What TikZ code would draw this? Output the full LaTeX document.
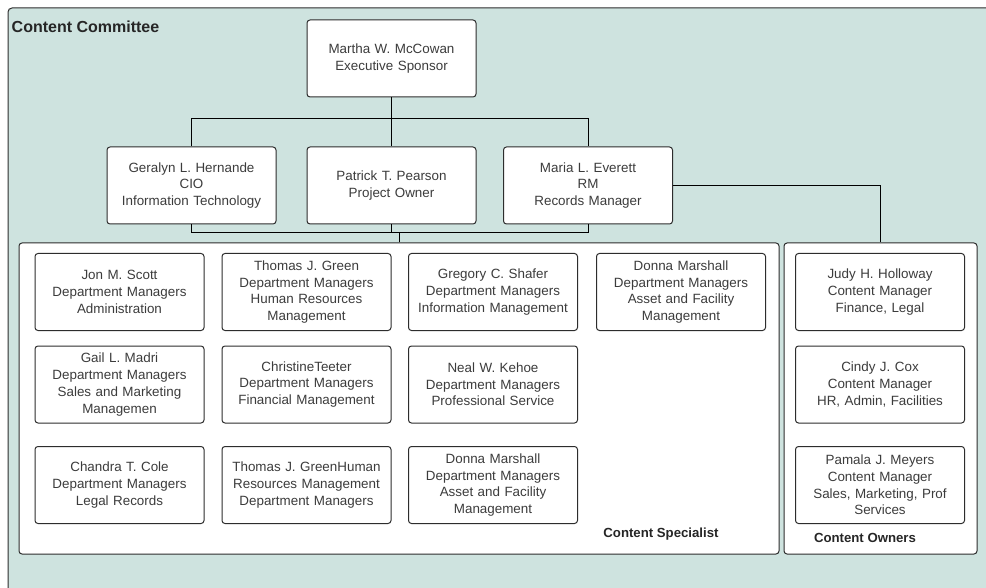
\documentclass[tikz,border=0pt]{standalone}
\usepackage{fontspec}
\setmainfont{Liberation Sans}
\usetikzlibrary{positioning}
\definecolor{committee}{RGB}{206,227,223}
\definecolor{boxline}{RGB}{45,45,45}
\definecolor{boxtext}{RGB}{60,60,60}

\begin{document}
\begin{tikzpicture}
		[x=1pt, y=-1pt,
		person/.style ={rectangle, draw=boxline, line width=1pt, fill=white, rounded corners=3pt, inner sep=0pt,
			minimum width=169pt, minimum height=77pt, text width=165pt, align=center,
			text=boxtext, font=\fontsize{13.4}{16.7}\selectfont},
		group/.style ={rectangle, draw=boxline, line width=1pt, fill=white, rounded corners=3pt, inner sep=0pt,
			minimum height=311pt},
		title/.style ={font=\bfseries\fontsize{13.2}{16}\selectfont, text=black!85, inner sep=0pt},
		link/.style ={draw=black, line width=1pt},
		]
		\useasboundingbox (0,0) rectangle (986,588);
		\clip (0,0) rectangle (986,588);

		% committee frame
		\draw[draw=boxline, fill=committee, line width=1pt, rounded corners=4pt] (8,8) rectangle (1000,600);
		\draw (11.5,27) node[title, anchor=west, font=\bfseries\fontsize{16}{18}\selectfont] (CC) {Content Committee};

		% sponsor and owners
		\draw (391.5,58.5) node[person] (MM) {Martha W. McCowan\\Executive Sponsor};
		\draw (191.5,185.5) node[person] (GH) {Geralyn L. Hernande\\CIO\\Information Technology};
		\draw (391.5,185.5) node[person] (PP) {Patrick T. Pearson\\Project Owner};
		\draw (588,185.5) node[person] (ME) {Maria L. Everett\\RM\\Records Manager};

		% groups
		\draw (399,398.5) node[group, minimum width=760pt] (CS) {};
		\draw (880.5,398.5) node[group, minimum width=193pt] (CO) {};
		\draw (661,534) node[title] (CSL) {Content Specialist};
		\draw (865,538) node[title] (COL) {Content Owners};

		% content specialists
		\draw (119.5,292) node[person] (JS) {Jon M. Scott\\Department Managers\\Administration};
		\draw (306.5,292) node[person] (TG1) {Thomas J. Green\\Department Managers\\Human Resources\\Management};
		\draw (493,292) node[person] (GS) {Gregory C. Shafer\\Department Managers\\Information Management};
		\draw (681,292) node[person] (DM1) {Donna Marshall\\Department Managers\\Asset and Facility\\Management};
		\draw (119.5,384.5) node[person] (GM) {Gail L. Madri\\Department Managers\\Sales and Marketing\\Managemen};
		\draw (306.5,384.5) node[person] (CT) {ChristineTeeter\\Department Managers\\Financial Management};
		\draw (493,384.5) node[person] (NK) {Neal W. Kehoe\\Department Managers\\Professional Service};
		\draw (119.5,485) node[person] (CC3) {Chandra T. Cole\\Department Managers\\Legal Records};
		\draw (306.5,485) node[person] (TG2) {Thomas J. GreenHuman\\Resources Management\\Department Managers};
		\draw (493,485) node[person] (DM2) {Donna Marshall\\Department Managers\\Asset and Facility\\Management};

		% content owners
		\draw (880,292) node[person] (JH) {Judy H. Holloway\\Content Manager\\Finance, Legal};
		\draw (880,384.5) node[person] (CX) {Cindy J. Cox\\Content Manager\\HR, Admin, Facilities};
		\draw (880,485) node[person] (PM) {Pamala J. Meyers\\Content Manager\\Sales, Marketing, Prof\\Services};

		\coordinate (topbar) at (0,119);
		\coordinate (lowbar) at (0,233);
		\path[link]
		(MM.south) -- (PP.north)
		(GH.north) -- (GH.north |- topbar) -- (ME.north |- topbar) -- (ME.north)
		(GH.south) -- (GH.south |- lowbar) -- (ME.south |- lowbar) -- (ME.south)
		(PP.south) -- (PP.south |- lowbar)
		(CS.north) -- (CS.north |- lowbar)
		(ME.east) -| (CO.north);
	\end{tikzpicture}
\end{document}
